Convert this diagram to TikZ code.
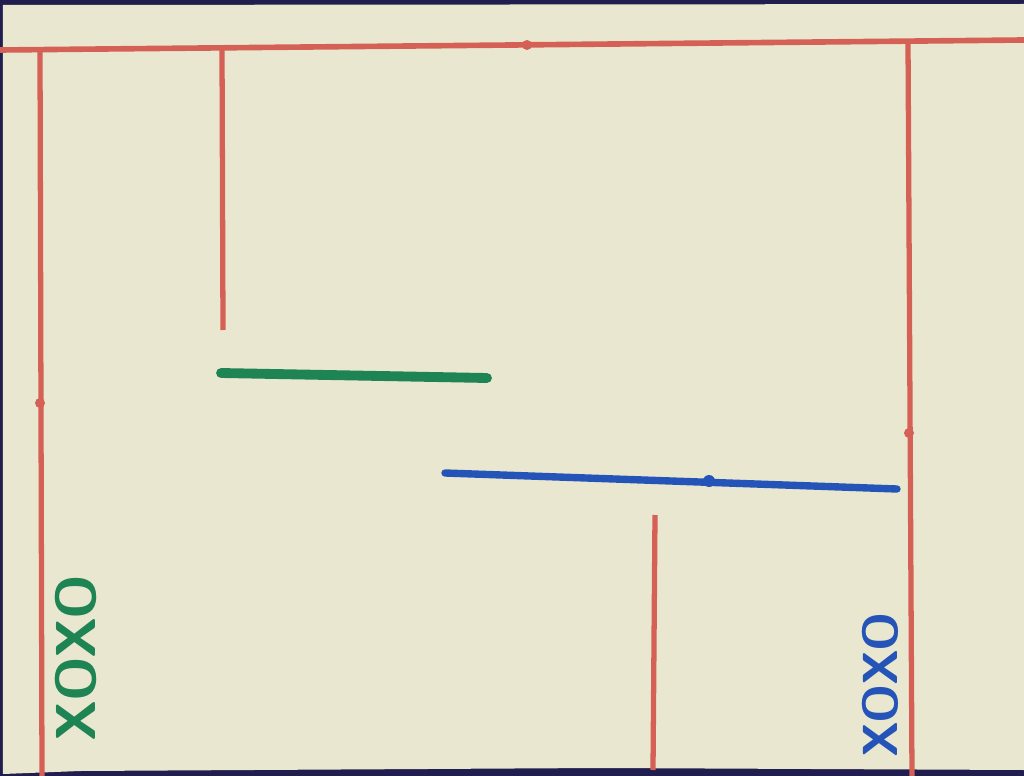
\documentclass[tikz,border=0pt]{standalone}
\usepackage{tikz}
\definecolor{paper}{RGB}{234,231,208}
\definecolor{edge}{RGB}{32,30,78}
\definecolor{wallred}{RGB}{212,96,86}
\definecolor{pengreen}{RGB}{30,132,84}
\definecolor{penblue}{RGB}{36,84,184}

\begin{document}
\begin{tikzpicture}[x=0.01cm, y=-0.01cm]
        % Card and dark table round it
        \fill[edge] (0,0) rectangle (1024,776);
        \fill[paper] (3,5) -- (1024,4) -- (1024,770) -- (600,768) -- (80,771) -- (3,774) -- cycle;
        \useasboundingbox (0,0) rectangle (1024,776);

        % Draw the red walls
        \draw[line width=1.6pt, wallred] (0,50) -- (1024,40);
        \draw[line width=1.5pt, wallred] (40,50) -- (42,776);
        \draw[line width=1.5pt, wallred] (222,48) -- (223,330);
        \draw[line width=1.5pt, wallred] (908,41) -- (912,776);
        \draw[line width=1.5pt, wallred] (655,515) -- (653,770);
        \fill[wallred] (40,403) circle (5);
        \fill[wallred] (527,45) circle (5);
        \fill[wallred] (909,433) circle (5);

        % Draw the green and blue strokes
        \draw[line width=2.8pt, line cap=round, pengreen] (221,373) -- (487,378);
        \draw[line width=2.1pt, line cap=round, penblue] (445,473) -- (897,489);
        \fill[penblue] (709,481) circle (6);

        % Add the XOXO marks
        \node[rotate=90, pengreen, inner sep=0pt, font=\sffamily\bfseries\fontsize{16}{16}\selectfont] (greenxo) at (76,658) {XOXO};
        \node[rotate=90, penblue, inner sep=0pt, font=\sffamily\bfseries\fontsize{14}{14}\selectfont] (bluexo) at (880,685) {XOXO};
    \end{tikzpicture}
\end{document}
